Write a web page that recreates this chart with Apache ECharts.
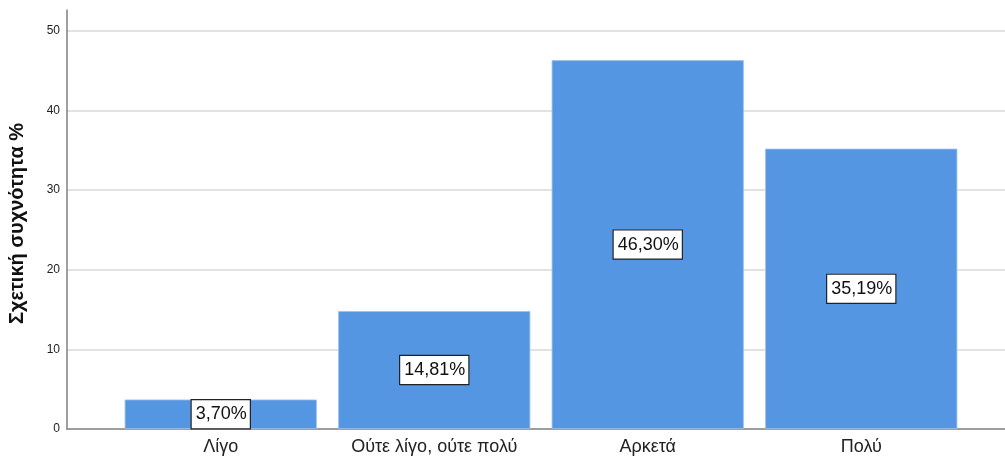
<!DOCTYPE html>
<html>
<head>
<meta charset="utf-8">
<script src="https://cdn.jsdelivr.net/npm/echarts@6/dist/echarts.min.js"></script>
<style>
  html, body { margin: 0; padding: 0; background: #ffffff; }
  #chart { width: 1005px; height: 458px; }
</style>
</head>
<body>
<div id="chart"></div>
<script>
// Response categories and their relative frequencies (%)
const categories = ['Λίγο', 'Ούτε λίγο, ούτε πολύ', 'Αρκετά', 'Πολύ'];
const percentages = [3.70, 14.81, 46.30, 35.19];
const yTicks = [0, 10, 20, 30, 40, 50];
const yAxisTitle = 'Σχετική συχνότητα %';

const FONT = '"Liberation Sans", Arial, sans-serif';
const Y_MAX = 52.6;

const chart = echarts.init(document.getElementById('chart'), null, { renderer: 'canvas' });

chart.setOption({
  animation: false,
  backgroundColor: '#ffffff',
  grid: [
    // frame: value axis, gridlines and the full-width baseline
    { left: 67, right: 0, top: 10, bottom: 29, containLabel: false, outerBoundsMode: 'none' },
    // inner band where the bars sit
    { left: 114, right: 37, top: 10, bottom: 29, containLabel: false, outerBoundsMode: 'none' }
  ],
  xAxis: [
    {
      gridIndex: 0,
      type: 'category',
      data: [''],
      axisLine: { show: true, lineStyle: { color: '#7f7f7f', width: 1.5 } },
      axisTick: { show: false },
      axisLabel: { show: false },
      splitLine: { show: false }
    },
    {
      gridIndex: 1,
      type: 'category',
      data: categories,
      axisLine: { show: false },
      axisTick: { show: false },
      axisLabel: {
        color: '#222222',
        fontFamily: FONT,
        fontSize: 18,
        margin: 9,
        interval: 0,
        hideOverlap: false
      },
      splitLine: { show: false }
    }
  ],
  yAxis: [
    {
      gridIndex: 0,
      type: 'value',
      min: yTicks[0],
      max: Y_MAX,
      interval: yTicks[1] - yTicks[0],
      name: yAxisTitle,
      nameLocation: 'middle',
      nameGap: 40,
      nameTextStyle: {
        color: '#111111',
        fontFamily: FONT,
        fontSize: 20,
        fontWeight: 'bold',
        padding: [0, 8, 0, 0]
      },
      axisLine: { show: true, lineStyle: { color: '#7f7f7f', width: 1.5 } },
      axisTick: { show: false },
      axisLabel: {
        color: '#222222',
        fontFamily: FONT,
        fontSize: 12,
        margin: 7,
        showMaxLabel: false,
        formatter: v => (yTicks.includes(v) ? String(v) : '')
      },
      splitLine: {
        show: true,
        showMinLine: false,
        showMaxLine: false,
        lineStyle: { color: '#d9d9d9', width: 1.5 }
      }
    },
    {
      gridIndex: 1,
      type: 'value',
      min: yTicks[0],
      max: Y_MAX,
      interval: yTicks[1] - yTicks[0],
      show: false,
      splitLine: { show: false }
    }
  ],
  series: [
    {
      type: 'bar',
      xAxisIndex: 1,
      yAxisIndex: 1,
      data: percentages,
      barCategoryGap: '10%',
      itemStyle: {
        color: '#5596e3',
        borderColor: '#9cc0ef',
        borderWidth: 0.8
      },
      label: {
        show: true,
        position: 'inside',
        formatter: p => p.value.toFixed(2).replace('.', ',') + '%',
        color: '#111111',
        fontFamily: FONT,
        fontSize: 18,
        backgroundColor: '#ffffff',
        borderColor: '#222222',
        borderWidth: 1.2,
        padding: [6, 3, 4, 4]
      }
    }
  ]
});
</script>
</body>
</html>
